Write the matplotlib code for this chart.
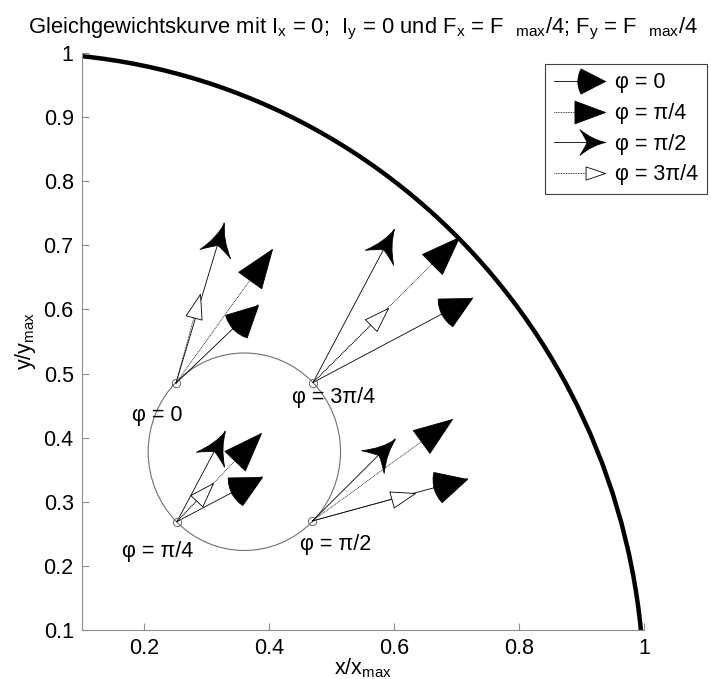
import numpy as np
import matplotlib
matplotlib.use("Agg")
import matplotlib.pyplot as plt
from matplotlib.lines import Line2D
from matplotlib.markers import MarkerStyle
from matplotlib.patches import Circle
from matplotlib.path import Path
from matplotlib.transforms import Affine2D
from matplotlib.legend_handler import HandlerLine2D

plt.rcParams['font.family'] = ['Liberation Sans', 'DejaVu Sans']
plt.rcParams['mathtext.default'] = 'regular'
plt.rcParams['font.size'] = 15.5

# Points on the small circle (x, y) and their labels
point_x = [0.2505, 0.252, 0.469, 0.470]
point_y = [0.485, 0.269, 0.270, 0.486]
point_labels = ['φ = 0', 'φ = π/4', 'φ = π/2', 'φ = 3π/4']
label_dx = [-0.071, -0.088, -0.020, -0.034]
label_dy = [-0.050, -0.047, -0.037, -0.024]

# Force vectors per point for the 4 head styles (phi = 0, pi/4, pi/2, 3pi/4)
vec_dx = {
    'φ = 0':    [0.131, 0.136, 0.248, 0.255],
    'φ = π/4':  [0.154, 0.135, 0.224, 0.234],
    'φ = π/2':  [0.077, 0.077, 0.132, 0.130],
    'φ = 3π/4': [0.039, 0.058, 0.164, 0.120],
}
vec_dy = {
    'φ = 0':    [0.122, 0.070, 0.066, 0.132],
    'φ = π/4':  [0.209, 0.138, 0.159, 0.227],
    'φ = π/2':  [0.250, 0.141, 0.128, 0.239],
    'φ = 3π/4': [0.139, 0.060, 0.044, 0.116],
}

small_center = (0.36, 0.378)
small_radius = 0.154

# arrow head shapes, tip at origin, pointing to +x
C3, L, M, CL = Path.CURVE3, Path.LINETO, Path.MOVETO, Path.CLOSEPOLY
head_paths = {
    'rounded': Path([(0, 0), (-0.88, 0.45), (-0.94, 0.32), (-0.98, 0.16), (-1.0, 0),
                     (-0.98, -0.16), (-0.94, -0.32), (-0.88, -0.45), (0, 0)],
                    [M, L, L, L, L, L, L, L, CL]),
    'filled': Path([(0, 0), (-1, 0.37), (-1, -0.37), (0, 0)], [M, L, L, CL]),
    'concave': Path([(0, 0), (-0.5, 0.1), (-1, 0.5), (-0.8, 0.2), (-0.72, 0),
                     (-0.8, -0.2), (-1, -0.5), (-0.5, -0.1), (0, 0), (0, 0)],
                    [M, C3, C3, C3, C3, C3, C3, C3, C3, CL]),
    'open': Path([(0, 0), (-1, 0.34), (-1, -0.34), (0, 0)], [M, L, L, CL]),
}
styles = {
    'φ = 0':    dict(head='rounded', ms=50, fc='k', ls='-'),
    'φ = π/4':  dict(head='filled', ms=55, fc='k', ls=(0, (1, 1))),
    'φ = π/2':  dict(head='concave', ms=46, fc='k', ls='-'),
    'φ = 3π/4': dict(head='open', ms=35, fc='w', ls=(0, (1, 1))),
}


class HeadAtEnd(HandlerLine2D):
    def create_artists(self, legend, orig_handle, xdescent, ydescent,
                       width, height, fontsize, trans):
        arts = super().create_artists(legend, orig_handle, xdescent, ydescent,
                                      width, height, fontsize, trans)
        for a in arts:
            a.set_markevery([2])
        return arts


fig = plt.figure(figsize=(7.11, 6.79), dpi=100)
ax = fig.add_axes([0.1153, 0.0722, 0.7905, 0.8498])
ax.set_xlim(0.1, 1)
ax.set_ylim(0.1, 1)

# Gleichgewichtskurve
ax.add_patch(Circle((0, 0), 1.0, fill=False, lw=3.2, color='k'))
ax.add_patch(Circle(small_center, small_radius, fill=False, lw=0.8, color='#707070'))

ax.plot(point_x, point_y, 'o', ms=6, mfc='none', mec='#555555', mew=0.6, zorder=5)

for i, (px, py) in enumerate(zip(point_x, point_y)):
    ax.text(px + label_dx[i], py + label_dy[i], point_labels[i], ha='left', va='center')

handles = []
for name, st in styles.items():
    for i, (px, py) in enumerate(zip(point_x, point_y)):
        tx, ty = px + vec_dx[name][i], py + vec_dy[name][i]
        ax.plot([px, tx], [py, ty], color='k', lw=0.6, ls=st['ls'], zorder=3)
        p0 = ax.transData.transform((px, py))
        p1 = ax.transData.transform((tx, ty))
        ang = np.degrees(np.arctan2(p1[1] - p0[1], p1[0] - p0[0]))
        mk = MarkerStyle(head_paths[st['head']], transform=Affine2D().rotate_deg(ang),
                         joinstyle='miter')
        ax.plot([tx], [ty], ls='none', marker=mk, ms=st['ms'], mfc=st['fc'],
                mec='k', mew=0.6, zorder=4)
    handles.append(Line2D([], [], color='k', lw=0.6, ls=st['ls'],
                          marker=MarkerStyle(head_paths[st['head']], joinstyle='miter'),
                          ms=st['ms'] * 0.8, mfc=st['fc'], mec='k', mew=0.6,
                          label=name))

leg = ax.legend(handles=handles, handler_map={Line2D: HeadAtEnd()},
                loc='upper right', bbox_to_anchor=(0.994, 0.906),
                bbox_transform=fig.transFigure, borderaxespad=0, fancybox=False,
                framealpha=1.0, edgecolor='#404040', handlelength=2.4,
                handletextpad=0.45, labelspacing=0.45, borderpad=0.4, numpoints=1)
leg.get_frame().set_linewidth(0.8)

for s in ['top', 'right']:
    ax.spines[s].set_visible(False)
for s in ['left', 'bottom']:
    ax.spines[s].set_color('#909090')
ax.tick_params(direction='in', length=5, color='#909090', pad=6)
ax.set_xticks([0.2, 0.4, 0.6, 0.8, 1.0], ['0.2', '0.4', '0.6', '0.8', '1'])
ax.set_yticks(np.arange(1, 11) / 10, ['0.1', '0.2', '0.3', '0.4', '0.5', '0.6', '0.7', '0.8', '0.9', '1'])

ax.set_xlabel('x/x$_{max}$', labelpad=-2)
ax.set_ylabel('y/y$_{max}$', labelpad=4)
ax.set_title('Gleichgewichtskurve mit I$_x$ = 0;  I$_y$ = 0 und F$_x$ = F  $_{max}$/4; '
             'F$_y$ = F  $_{max}$/4', pad=14, fontsize=15.8)

fig.savefig('out.png', dpi=100)
